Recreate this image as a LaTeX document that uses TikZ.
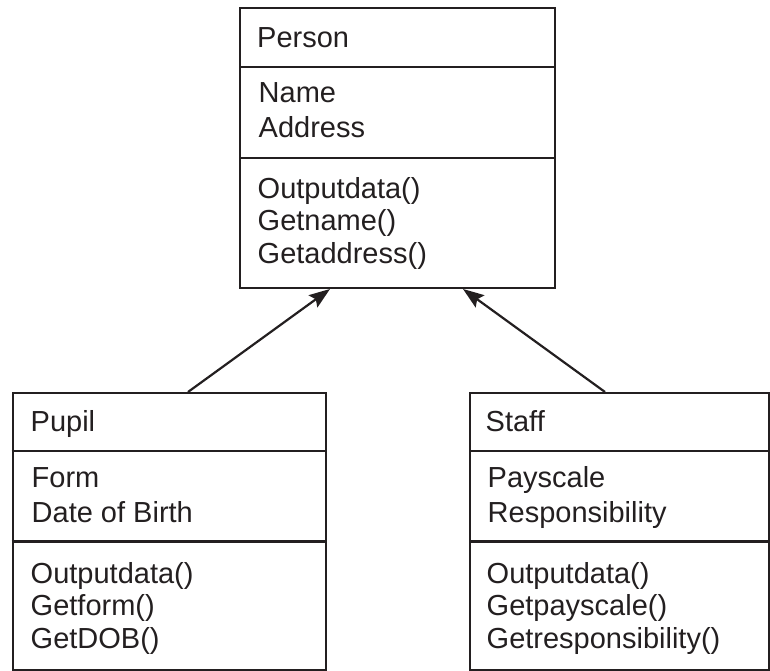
\documentclass[tikz,border=0pt]{standalone}
\usepackage{fontspec}
\setmainfont{Liberation Sans}
\usetikzlibrary{arrows.meta}
\definecolor{ink}{HTML}{231F20}
\begin{document}
\begin{tikzpicture}[x=1pt,y=-1pt,
  classbox/.style={draw=ink,line width=2pt,rectangle,inner sep=0pt,anchor=north west},
  divider/.style={draw=ink,line width=2.6pt},
  txt/.style={anchor=base west,inner sep=0pt,text=ink,font=\fontsize{29}{33}\selectfont},
  inherit/.style={draw=ink,line width=2.2pt,-{Stealth[length=21pt,width=15pt,inset=3.5pt]}}]
\useasboundingbox (0,0) rectangle (770,671);
% Person
\node[classbox,minimum width=315pt,minimum height=280pt] (person) at (239,7) {};
\draw[divider] (239,67) -- (554,67);
\draw[divider] (239,158) -- (554,158);
\node[txt] (pn) at (257,48) {Person};
\node[txt] (pa1) at (258.5,103) {Name};
\node[txt] (pa2) at (258.5,138) {Address};
\node[txt] (pm1) at (257.5,198) {Outputdata()};
\node[txt] (pm2) at (257.5,230.5) {Getname()};
\node[txt] (pm3) at (257.5,263) {Getaddress()};
% Pupil
\node[classbox,minimum width=313.5pt,minimum height=277pt] (pupil) at (11.5,392) {};
\draw[divider] (11.5,451) -- (325,451);
\draw[divider] (11.5,541.5) -- (325,541.5);
\node[txt] (un) at (30.5,431) {Pupil};
\node[txt] (ua1) at (31.5,487) {Form};
\node[txt] (ua2) at (31.5,522) {Date of Birth};
\node[txt] (um1) at (30.5,583) {Outputdata()};
\node[txt] (um2) at (30.5,615.5) {Getform()};
\node[txt] (um3) at (30.5,648) {GetDOB()};
% Staff
\node[classbox,minimum width=299pt,minimum height=277pt] (staff) at (469,392) {};
\draw[divider] (469,451) -- (768,451);
\draw[divider] (469,541.5) -- (768,541.5);
\node[txt] (sn) at (485.5,431) {Staff};
\node[txt] (sa1) at (487.5,487) {Payscale};
\node[txt] (sa2) at (487.5,522) {Responsibility};
\node[txt] (sm1) at (486.5,583) {Outputdata()};
\node[txt] (sm2) at (486.5,615.5) {Getpayscale()};
\node[txt] (sm3) at (486.5,648) {Getresponsibility()};
% inheritance arrows
\draw[inherit] ([xshift=176.5pt]pupil.north west) -- ([xshift=91pt]person.south west);
\draw[inherit] ([xshift=136pt]staff.north west) -- ([xshift=224pt]person.south west);
\end{tikzpicture}
\end{document}
